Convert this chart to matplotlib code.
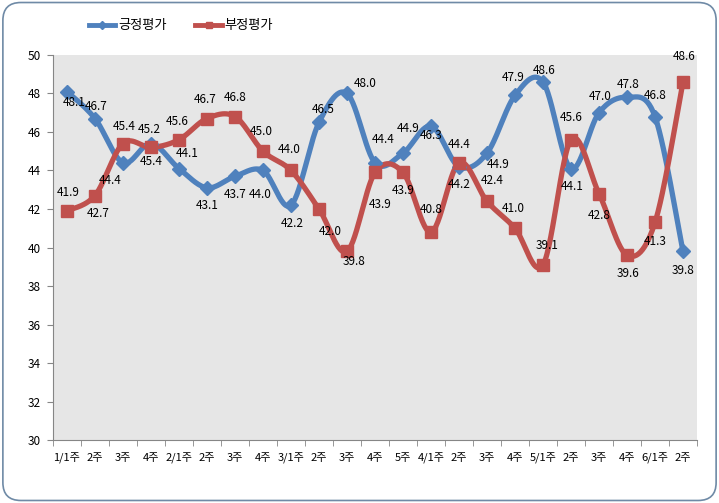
import numpy as np
import matplotlib
matplotlib.use('Agg')
import matplotlib.pyplot as plt
from matplotlib.patches import FancyBboxPatch

plt.rcParams['font.family'] = ['Noto Sans CJK KR', 'DejaVu Sans']

weeks = ['1/1주', '2주', '3주', '4주', '2/1주', '2주', '3주', '4주', '3/1주', '2주', '3주',
         '4주', '5주', '4/1주', '2주', '3주', '4주', '5/1주', '2주', '3주', '4주', '6/1주', '2주']
positive = [48.1, 46.7, 44.4, 45.4, 44.1, 43.1, 43.7, 44.0, 42.2, 46.5, 48.0, 44.4,
            44.9, 46.3, 44.2, 44.9, 47.9, 48.6, 44.1, 47.0, 47.8, 46.8, 39.8]
negative = [41.9, 42.7, 45.4, 45.2, 45.6, 46.7, 46.8, 45.0, 44.0, 42.0, 39.8, 43.9,
            43.9, 40.8, 44.4, 42.4, 41.0, 39.1, 45.6, 42.8, 39.6, 41.3, 48.6]

# label offsets (points) for each data label
pos_offsets = [(5, -8), (1, 9), (-9, -13), (0, -13), (6, 11), (0, -13), (0, -13), (-2, -17),
               (1, -13), (3, 9), (13, 7), (6, 17), (4, 18), (0, -7), (0, -13), (8, -8),
               (-1, 13), (1, 8), (1, -13), (1, 12), (1, 9), (0, 15), (0, -14)]
neg_offsets = [(1, 13), (2, -13), (1, 12), (-1, 13), (-1, 13), (-1, 14), (0, 14), (-1, 14),
               (-1, 15), (8, -16), (5, -7), (4, -23), (0, -13), (0, 16), (0, 13), (4, 15),
               (-1, 14), (3, 14), (0, 16), (0, -16), (1, -13), (0, -14), (1, 18)]


def smooth(xs, ys, n=30):
    # Catmull-Rom style smoothing like the spreadsheet's smoothed line
    xs = np.asarray(xs, float)
    ys = np.asarray(ys, float)
    px = np.concatenate([[xs[0]], xs, [xs[-1]]])
    py = np.concatenate([[ys[0]], ys, [ys[-1]]])
    ox, oy = [], []
    t = np.linspace(0, 1, n)
    for i in range(1, len(px) - 2):
        x0, x1, x2, x3 = px[i - 1:i + 3]
        y0, y1, y2, y3 = py[i - 1:i + 3]
        c1x, c1y = x1 + (x2 - x0) / 6, y1 + (y2 - y0) / 6
        c2x, c2y = x2 - (x3 - x1) / 6, y2 - (y3 - y1) / 6
        bx = (1 - t) ** 3 * x1 + 3 * (1 - t) ** 2 * t * c1x + 3 * (1 - t) * t ** 2 * c2x + t ** 3 * x2
        by = (1 - t) ** 3 * y1 + 3 * (1 - t) ** 2 * t * c1y + 3 * (1 - t) * t ** 2 * c2y + t ** 3 * y2
        ox.extend(bx)
        oy.extend(by)
    return ox, oy


blue = '#4F81BD'
red = '#C0504D'

fig = plt.figure(figsize=(7.19, 5.03), dpi=100)
frame = FancyBboxPatch((0.004, 0.005), 0.992, 0.99, boxstyle='round,pad=0,rounding_size=0.025',
                       transform=fig.transFigure, facecolor='white', edgecolor='#6F8AA6',
                       linewidth=1.2, mutation_aspect=719 / 503, zorder=-10)
fig.patches.append(frame)
ax = fig.add_axes([0.0737, 0.1252, 0.8957, 0.7655])
ax.set_zorder(5)
ax.set_facecolor('#E6E6E6')

x = np.arange(len(weeks))
sx, sy = smooth(x, positive)
ax.plot(sx, sy, color=blue, linewidth=3.8, solid_capstyle='round', zorder=3)
ax.plot(x, positive, linestyle='none', marker='D', markersize=7.5, color=blue, zorder=4)
sx, sy = smooth(x, negative)
ax.plot(sx, sy, color=red, linewidth=3.8, solid_capstyle='round', zorder=3)
ax.plot(x, negative, linestyle='none', marker='s', markersize=8, color=red, zorder=4)

for i in range(len(weeks)):
    ax.annotate('%.1f' % positive[i], (x[i], positive[i]), xytext=pos_offsets[i],
                textcoords='offset points', ha='center', va='center', fontsize=8.5, zorder=5)
    ax.annotate('%.1f' % negative[i], (x[i], negative[i]), xytext=neg_offsets[i],
                textcoords='offset points', ha='center', va='center', fontsize=8.5, zorder=5)

ax.set_xlim(-0.5, len(weeks) - 0.5)
ax.set_ylim(30, 50)
ax.set_yticks(np.arange(30, 51, 2))
ax.tick_params(axis='y', direction='out', length=4, pad=5, labelsize=8.5, color='#868686')
ax.set_xticks(x)
ax.set_xticklabels(weeks)
ax.set_xticks(np.arange(-0.5, len(weeks), 1), minor=True)
ax.tick_params(axis='x', which='major', length=0, pad=9, labelsize=8)
ax.tick_params(axis='x', which='minor', direction='out', length=4, color='#868686')
for s in ['top', 'right']:
    ax.spines[s].set_visible(False)
for s in ['left', 'bottom']:
    ax.spines[s].set_color('#868686')

h1, = ax.plot([], [], color=blue, linewidth=3.5, marker='D', markersize=4)
h2, = ax.plot([], [], color=red, linewidth=3.5, marker='s', markersize=4)
fig.legend([h1, h2], ['긍정평가', '부정평가'], loc='center left', bbox_to_anchor=(0.107, 0.949),
           ncol=2, frameon=False, fontsize=9.5, handlelength=2.0, columnspacing=2.2, handletextpad=0.2)

fig.savefig('out.png', dpi=100)
